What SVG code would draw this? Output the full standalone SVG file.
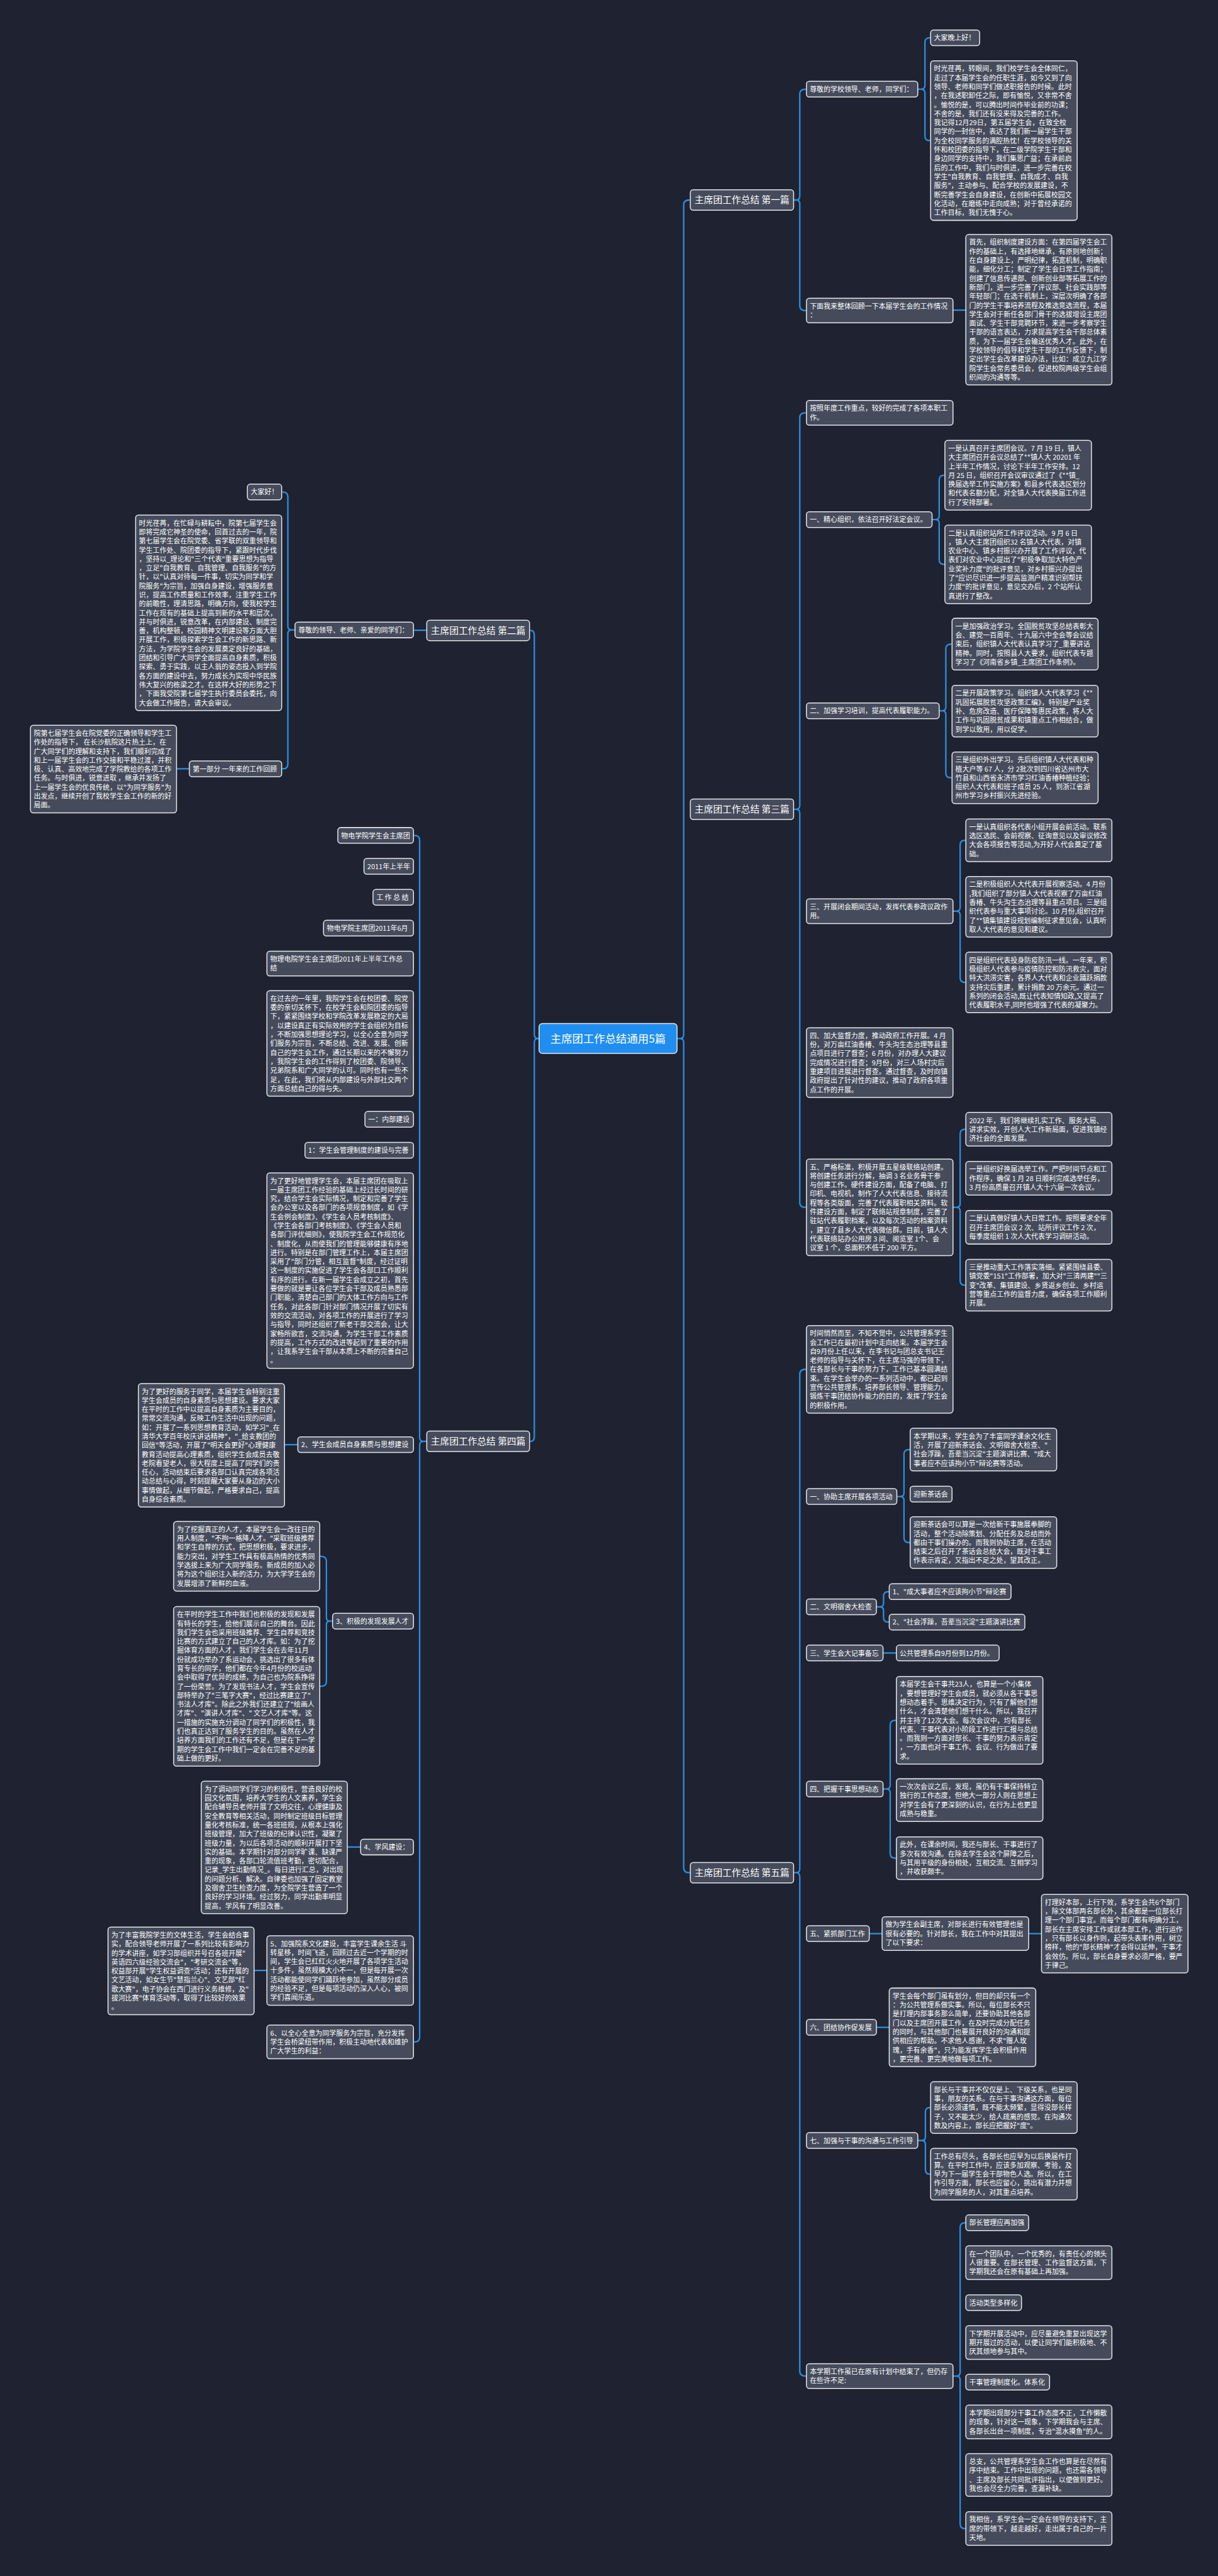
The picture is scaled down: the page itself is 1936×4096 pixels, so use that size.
<svg xmlns="http://www.w3.org/2000/svg" width="1936" height="4096" viewBox="0 0 1936 4096">
<style>
text{font-family:'Noto Sans CJK SC','Noto Sans',sans-serif;fill:#ffffff}
.t{font-size:14.5px}
.h{font-size:19.5px;text-anchor:middle}
.m{font-size:23px;text-anchor:middle}
.b{fill:#454b5b;stroke:#e3e6ea;stroke-width:2}
.k{fill:#1f8ef0;stroke:#e3e6ea;stroke-width:2}
.c{fill:none;stroke:#2d8fe0;stroke-width:3;stroke-linecap:round}
</style>
<rect x="0" y="0" width="1936" height="4096" fill="#1f2331"/>
<g transform="scale(0.75625)">
<g id="connectors">
<path class="c" d="M1449,420.5 Q1437,420.5 1437,430.5 L1437,2175.5 Q1437,2183.5 1429,2183.5 M1449,3937.5 Q1437,3937.5 1437,3927.5 L1437,2191.5 Q1437,2183.5 1429,2183.5 M1423,2183.5 L1429,2183.5"/>
<path class="c" d="M1693,187.5 Q1681,187.5 1681,197.5 L1681,412.5 Q1681,420.5 1673,420.5 M1693,653 Q1681,653 1681,643 L1681,428.5 Q1681,420.5 1673,420.5 M1668,420.5 L1673,420.5"/>
<path class="c" d="M1954,79.5 Q1944,79.5 1944,89.5 L1944,179.5 Q1944,187.5 1936,187.5 M1954,295.6 Q1944,295.6 1944,285.6 L1944,195.5 Q1944,187.5 1936,187.5 M1929,187.5 L1936,187.5"/>
<path class="c" d="M2003,652 L2030,652"/>
<path class="c" d="M1693,867.9 Q1681,867.9 1681,877.9 L1681,1693.5 Q1681,1701.5 1673,1701.5 M1693,2538.5 Q1681,2538.5 1681,2528.5 L1681,1709.5 Q1681,1701.5 1673,1701.5 M1668,1701.5 L1673,1701.5"/>
<path class="c" d="M1984,999.2 Q1974,999.2 1974,1009.2 L1974,1084.5 Q1974,1092.5 1966,1092.5 M1984,1186.6 Q1974,1186.6 1974,1176.6 L1974,1100.5 Q1974,1092.5 1966,1092.5 M1959,1092.5 L1966,1092.5"/>
<path class="c" d="M1999,1354.3 Q1988,1354.3 1988,1364.3 L1988,1486.5 Q1988,1494.5 1980,1494.5 M1999,1635.3 Q1988,1635.3 1988,1625.3 L1988,1502.5 Q1988,1494.5 1980,1494.5 M1974,1494.5 L1980,1494.5"/>
<path class="c" d="M2028,1766.8 Q2018,1766.8 2018,1776.8 L2018,1907.9 Q2018,1915.9 2010,1915.9 M2028,2065.7 Q2018,2065.7 2018,2055.7 L2018,1923.9 Q2018,1915.9 2010,1915.9 M2003,1915.9 L2010,1915.9"/>
<path class="c" d="M2028,2374.4 Q2018,2374.4 2018,2384.4 L2018,2530.5 Q2018,2538.5 2010,2538.5 M2028,2702.3 Q2018,2702.3 2018,2692.3 L2018,2546.5 Q2018,2538.5 2010,2538.5 M2003,2538.5 L2010,2538.5"/>
<path class="c" d="M1693,2879 Q1681,2879 1681,2889 L1681,3929.5 Q1681,3937.5 1673,3937.5 M1693,4995.9 Q1681,4995.9 1681,4985.9 L1681,3945.5 Q1681,3937.5 1673,3937.5 M1668,3937.5 L1673,3937.5"/>
<path class="c" d="M1911,3047.8 Q1900,3047.8 1900,3057.8 L1900,3138.5 Q1900,3146.5 1892,3146.5 M1911,3243.3 Q1900,3243.3 1900,3233.3 L1900,3154.5 Q1900,3146.5 1892,3146.5 M1885,3146.5 L1892,3146.5"/>
<path class="c" d="M1867,3346.5 Q1857,3346.5 1857,3356.5 L1857,3370.5 Q1857,3378.5 1849,3378.5 M1867,3410.5 Q1857,3410.5 1857,3400.5 L1857,3386.5 Q1857,3378.5 1849,3378.5 M1842,3378.5 L1849,3378.5"/>
<path class="c" d="M1856,3475.5 L1884,3475.5"/>
<path class="c" d="M1882,3617 Q1871,3617 1871,3627 L1871,3753.5 Q1871,3761.5 1863,3761.5 M1882,3906.8 Q1871,3906.8 1871,3896.8 L1871,3769.5 Q1871,3761.5 1863,3761.5 M1856,3761.5 L1863,3761.5"/>
<path class="c" d="M1827,4065.5 L1854,4065.5 M2162,4065.5 L2189,4065.5 M1842,4262.5 L1869,4262.5"/>
<path class="c" d="M1954,4431.3 Q1945,4431.3 1945,4441.3 L1945,4492.5 Q1945,4500.5 1937,4500.5 M1954,4571.3 Q1945,4571.3 1945,4561.3 L1945,4508.5 Q1945,4500.5 1937,4500.5 M1929,4500.5 L1937,4500.5"/>
<path class="c" d="M2028,4673.5 Q2018,4673.5 2018,4683.5 L2018,4987.9 Q2018,4995.9 2010,4995.9 M2028,5316.4 Q2018,5316.4 2018,5306.4 L2018,5003.9 Q2018,4995.9 2010,4995.9 M2003,4995.9 L2010,4995.9"/>
<path class="c" d="M1115,1325.5 Q1123,1325.5 1123,1335.5 L1123,2175.5 Q1123,2183.5 1131,2183.5 M1115,3030.5 Q1123,3030.5 1123,3020.5 L1123,2191.5 Q1123,2183.5 1131,2183.5 M1131,2183.5 L1133,2183.5"/>
<path class="c" d="M897,1325 L869,1325"/>
<path class="c" d="M594,1034.5 Q605,1034.5 605,1044.5 L605,1316.5 Q605,1324.5 613,1324.5 M594,1616.5 Q605,1616.5 605,1606.5 L605,1332.5 Q605,1324.5 613,1324.5 M613,1324.5 L620,1324.5"/>
<path class="c" d="M398,1616.5 L371,1616.5"/>
<path class="c" d="M871,1756.5 Q882,1756.5 882,1766.5 L882,3022.5 Q882,3030.5 890,3030.5 M871,4293.4 Q882,4293.4 882,4283.4 L882,3038.5 Q882,3030.5 890,3030.5 M890,3030.5 L897,3030.5"/>
<path class="c" d="M626,3037.5 L598,3037.5"/>
<path class="c" d="M674,3272.2 Q686,3272.2 686,3282.2 L686,3400.5 Q686,3408.5 694,3408.5 M674,3545.7 Q686,3545.7 686,3535.7 L686,3416.5 Q686,3408.5 694,3408.5 M694,3408.5 L699,3408.5"/>
<path class="c" d="M758,3883.5 L730,3883.5 M561,4143 L534,4143"/>
</g>

<g id="n-center"><rect class="k" x="1133" y="2152" width="290" height="63" rx="7"/><text class="m" x="1278" y="2192">主席团工作总结通用5篇</text></g>

<g id="n-p1"><rect class="b" x="1451" y="399" width="217" height="43" rx="6"/><text class="h" x="1559.5" y="427.5">主席团工作总结 第一篇</text></g>
<g id="n-p1a"><rect class="b" x="1695" y="171" width="234" height="33" rx="6"/><text class="t" x="1702" y="193">尊敬的学校领导、老师，同学们：</text></g>
<g id="n-p1a1"><rect class="b" x="1956" y="63" width="103" height="33" rx="6"/><text class="t" x="1963" y="85">大家晚上好！</text></g>
<g id="n-p1a2"><rect class="b" x="1956" y="128" width="308" height="335.3" rx="6"/><text class="t" x="1963" y="150"><tspan x="1963">时光荏苒，转眼间，我们校学生会全体同仁，</tspan><tspan x="1963" dy="18.9">走过了本届学生会的任职生涯，如今又到了向</tspan><tspan x="1963" dy="18.9">领导、老师和同学们做述职报告的时候。此时</tspan><tspan x="1963" dy="18.9">，在我述职卸任之际，即有愉悦，又非常不舍</tspan><tspan x="1963" dy="18.9">。愉悦的是，可以腾出时间作毕业前的功课；</tspan><tspan x="1963" dy="18.9">不舍的是，我们还有没来得及完善的工作。</tspan><tspan x="1963" dy="18.9">我记得12月29日，第五届学生会，在致全校</tspan><tspan x="1963" dy="18.9">同学的一封信中，表达了我们新一届学生干部</tspan><tspan x="1963" dy="18.9">为全校同学服务的满腔热忱！在学校领导的关</tspan><tspan x="1963" dy="18.9">怀和校团委的指导下，在二级学院学生干部和</tspan><tspan x="1963" dy="18.9">身边同学的支持中，我们集思广益；在承前启</tspan><tspan x="1963" dy="18.9">后的工作中，我们与时俱进，进一步完善在校</tspan><tspan x="1963" dy="18.9">学生"自我教育、自我管理、自我成才、自我</tspan><tspan x="1963" dy="18.9">服务"，主动参与、配合学校的发展建设，不</tspan><tspan x="1963" dy="18.9">断完善学生会自身建设，在创新中拓展校园文</tspan><tspan x="1963" dy="18.9">化活动，在磨练中走向成熟；对于曾经承诺的</tspan><tspan x="1963" dy="18.9">工作目标，我们无愧于心。</tspan></text></g>
<g id="n-p1b"><rect class="b" x="1695" y="627" width="308" height="51.8" rx="6"/><text class="t" x="1702" y="649"><tspan x="1702">下面我来整体回顾一下本届学生会的工作情况</tspan><tspan x="1702" dy="18.9">：</tspan></text></g>
<g id="n-p1b1"><rect class="b" x="2030" y="493" width="307" height="316.4" rx="6"/><text class="t" x="2037" y="515"><tspan x="2037">首先，组织制度建设方面：在第四届学生会工</tspan><tspan x="2037" dy="18.9">作的基础上，有选择地继承，有原则地创新；</tspan><tspan x="2037" dy="18.9">在自身建设上，严明纪律，拓宽机制，明确职</tspan><tspan x="2037" dy="18.9">能，细化分工；制定了学生会日常工作指南；</tspan><tspan x="2037" dy="18.9">创建了信息传递部、创新创业部等拓展工作的</tspan><tspan x="2037" dy="18.9">新部门，进一步完善了评议部、社会实践部等</tspan><tspan x="2037" dy="18.9">年轻部门；在选干机制上，深层次明确了各部</tspan><tspan x="2037" dy="18.9">门的学生干事培养流程及推选竞选流程，本届</tspan><tspan x="2037" dy="18.9">学生会对于新任各部门骨干的选拔增设主席团</tspan><tspan x="2037" dy="18.9">面试、学生干部竞聘环节，来进一步考察学生</tspan><tspan x="2037" dy="18.9">干部的语言表达，力求提高学生会干部总体素</tspan><tspan x="2037" dy="18.9">质，为下一届学生会输送优秀人才。此外，在</tspan><tspan x="2037" dy="18.9">学校领导的倡导和学生干部的工作反馈下，制</tspan><tspan x="2037" dy="18.9">定出学生会改革建设办法，比如：成立九江学</tspan><tspan x="2037" dy="18.9">院学生会常务委员会，促进校院两级学生会组</tspan><tspan x="2037" dy="18.9">织间的沟通等等。</tspan></text></g>

<g id="n-p3"><rect class="b" x="1451" y="1680" width="217" height="43" rx="6"/><text class="h" x="1559.5" y="1709">主席团工作总结 第三篇</text></g>
<g id="n-p3a"><rect class="b" x="1695" y="842" width="308" height="51.8" rx="6"/><text class="t" x="1702" y="864"><tspan x="1702">按照年度工作重点，较好的完成了各项本职工</tspan><tspan x="1702" dy="18.9">作。</tspan></text></g>
<g id="n-p3b"><rect class="b" x="1695" y="1076" width="264" height="33" rx="6"/><text class="t" x="1702" y="1098">一、精心组织，依法召开好法定会议。</text></g>
<g id="n-p3b1"><rect class="b" x="1986" y="926" width="308" height="146.3" rx="6"/><text class="t" x="1993" y="948"><tspan x="1993">一是认真召开主席团会议。7 月 19 日，镇人</tspan><tspan x="1993" dy="18.9">大主席团召开会议总结了**镇人大 20201 年</tspan><tspan x="1993" dy="18.9">上半年工作情况，讨论下半年工作安排。12</tspan><tspan x="1993" dy="18.9">月 25 日，组织召开会议审议通过了《**镇_</tspan><tspan x="1993" dy="18.9">换届选举工作实施方案》和县乡代表选区划分</tspan><tspan x="1993" dy="18.9">和代表名额分配，对全镇人大代表换届工作进</tspan><tspan x="1993" dy="18.9">行了安排部署。</tspan></text></g>
<g id="n-p3b2"><rect class="b" x="1986" y="1104" width="308" height="165.2" rx="6"/><text class="t" x="1993" y="1126"><tspan x="1993">二是认真组织站所工作评议活动。9 月 6 日</tspan><tspan x="1993" dy="18.9">，镇人大主席团组织32 名镇人大代表，对镇</tspan><tspan x="1993" dy="18.9">农业中心、镇乡村振兴办开展了工作评议，代</tspan><tspan x="1993" dy="18.9">表们对农业中心提出了"积极争取加大特色产</tspan><tspan x="1993" dy="18.9">业奖补力度"的批评意见，对乡村振兴办提出</tspan><tspan x="1993" dy="18.9">了"应识尽识进一步提高监测户精准识别帮扶</tspan><tspan x="1993" dy="18.9">力度"的批评意见，意见交办后，2 个站所认</tspan><tspan x="1993" dy="18.9">真进行了整改。</tspan></text></g>
<g id="n-p3c"><rect class="b" x="1695" y="1478" width="279" height="33" rx="6"/><text class="t" x="1702" y="1500">二、加强学习培训，提高代表履职能力。</text></g>
<g id="n-p3c1"><rect class="b" x="2001" y="1300" width="307" height="108.5" rx="6"/><text class="t" x="2008" y="1322"><tspan x="2008">一是加强政治学习。全国脱贫攻坚总结表彰大</tspan><tspan x="2008" dy="18.9">会、建党一百周年、十九届六中全会等会议结</tspan><tspan x="2008" dy="18.9">束后，组织镇人大代表认真学习了_重要讲话</tspan><tspan x="2008" dy="18.9">精神。同时，按照县人大要求，组织代表专题</tspan><tspan x="2008" dy="18.9">学习了《河南省乡镇_主席团工作条例》。</tspan></text></g>
<g id="n-p3c2"><rect class="b" x="2001" y="1441" width="307" height="108.5" rx="6"/><text class="t" x="2008" y="1463"><tspan x="2008">二是开展政策学习。组织镇人大代表学习《**</tspan><tspan x="2008" dy="18.9">巩固拓展脱贫攻坚政策汇编》，特别是产业奖</tspan><tspan x="2008" dy="18.9">补、危房改造、医疗保障等惠民政策，将人大</tspan><tspan x="2008" dy="18.9">工作与巩固脱贫成果和镇重点工作相结合，做</tspan><tspan x="2008" dy="18.9">到学以致用，用以促学。</tspan></text></g>
<g id="n-p3c3"><rect class="b" x="2001" y="1581" width="307" height="108.5" rx="6"/><text class="t" x="2008" y="1603"><tspan x="2008">三是组织外出学习。先后组织镇人大代表和种</tspan><tspan x="2008" dy="18.9">植大户等 67 人，分 2批次到四川省达州市大</tspan><tspan x="2008" dy="18.9">竹县和山西省永济市学习红油香椿种植经验；</tspan><tspan x="2008" dy="18.9">组织人大代表和班子成员 25 人，到浙江省湖</tspan><tspan x="2008" dy="18.9">州市学习乡村振兴先进经验。</tspan></text></g>
<g id="n-p3d"><rect class="b" x="1695" y="1890" width="308" height="51.8" rx="6"/><text class="t" x="1702" y="1912"><tspan x="1702">三、开展闭会期间活动，发挥代表参政议政作</tspan><tspan x="1702" dy="18.9">用。</tspan></text></g>
<g id="n-p3d1"><rect class="b" x="2030" y="1722" width="307" height="89.6" rx="6"/><text class="t" x="2037" y="1744"><tspan x="2037">一是认真组织各代表小组开展会前活动。联系</tspan><tspan x="2037" dy="18.9">选区选民、会前视察、征询意见以及审议修改</tspan><tspan x="2037" dy="18.9">大会各项报告等活动,为开好人代会奠定了基</tspan><tspan x="2037" dy="18.9">础。</tspan></text></g>
<g id="n-p3d2"><rect class="b" x="2030" y="1843" width="307" height="127.4" rx="6"/><text class="t" x="2037" y="1865"><tspan x="2037">二是积极组织人大代表开展视察活动。4 月份</tspan><tspan x="2037" dy="18.9">,我们组织了部分镇人大代表视察了万亩红油</tspan><tspan x="2037" dy="18.9">香椿、牛头沟生态治理等县重点项目。三是组</tspan><tspan x="2037" dy="18.9">织代表参与重大事项讨论。10 月份,组织召开</tspan><tspan x="2037" dy="18.9">了**镇集镇建设规划编制征求意见会，认真听</tspan><tspan x="2037" dy="18.9">取人大代表的意见和建议。</tspan></text></g>
<g id="n-p3d3"><rect class="b" x="2030" y="2002" width="307" height="127.4" rx="6"/><text class="t" x="2037" y="2024"><tspan x="2037">四是组织代表投身防疫防汛一线。一年来，积</tspan><tspan x="2037" dy="18.9">极组织人代表参与疫情防控和防汛救灾，面对</tspan><tspan x="2037" dy="18.9">特大洪涝灾害，各界人大代表和企业踊跃捐款</tspan><tspan x="2037" dy="18.9">支持灾后重建，累计捐款 20 万余元。通过一</tspan><tspan x="2037" dy="18.9">系列的闭会活动,既让代表知情知政,又提高了</tspan><tspan x="2037" dy="18.9">代表履职水平,同时也增强了代表的凝聚力。</tspan></text></g>
<g id="n-p3e"><rect class="b" x="1695" y="2161" width="308" height="146.3" rx="6"/><text class="t" x="1702" y="2183"><tspan x="1702">四、加大监督力度，推动政府工作开展。4 月</tspan><tspan x="1702" dy="18.9">份，对万亩红油香椿、牛头沟生态治理等县重</tspan><tspan x="1702" dy="18.9">点项目进行了督查；6 月份，对办理人大建议</tspan><tspan x="1702" dy="18.9">完成情况进行督查；9月份，对三人场村灾后</tspan><tspan x="1702" dy="18.9">重建项目进展进行督查。通过督查，及时向镇</tspan><tspan x="1702" dy="18.9">政府提出了针对性的建议，推动了政府各项重</tspan><tspan x="1702" dy="18.9">点工作的开展。</tspan></text></g>
<g id="n-p3f"><rect class="b" x="1695" y="2437" width="308" height="203" rx="6"/><text class="t" x="1702" y="2459"><tspan x="1702">五、严格标准，积极开展五星级联络站创建。</tspan><tspan x="1702" dy="18.9">将创建任务进行分解，抽调 3 名业务骨干参</tspan><tspan x="1702" dy="18.9">与创建工作。硬件建设方面，配备了电脑、打</tspan><tspan x="1702" dy="18.9">印机、电视机，制作了人大代表信息、接待流</tspan><tspan x="1702" dy="18.9">程等各类版面，完善了代表履职相关资料。软</tspan><tspan x="1702" dy="18.9">件建设方面，制定了联络站规章制度，完善了</tspan><tspan x="1702" dy="18.9">驻站代表履职档案，以及每次活动的档案资料</tspan><tspan x="1702" dy="18.9">，建立了县乡人大代表微信群。目前，镇人大</tspan><tspan x="1702" dy="18.9">代表联络站办公用房 3 间、阅览室 1个、会</tspan><tspan x="1702" dy="18.9">议室 1 个，总面积不低于 200 平方。</tspan></text></g>
<g id="n-p3f1"><rect class="b" x="2030" y="2339" width="307" height="70.7" rx="6"/><text class="t" x="2037" y="2361"><tspan x="2037">2022 年，我们将继续扎实工作、服务大局、</tspan><tspan x="2037" dy="18.9">讲求实效，开创人大工作新局面，促进我镇经</tspan><tspan x="2037" dy="18.9">济社会的全面发展。</tspan></text></g>
<g id="n-p3f2"><rect class="b" x="2030" y="2442" width="307" height="70.7" rx="6"/><text class="t" x="2037" y="2464"><tspan x="2037">一是组织好换届选举工作。严把时间节点和工</tspan><tspan x="2037" dy="18.9">作程序，确保 1 月 28 日顺利完成选举任务，</tspan><tspan x="2037" dy="18.9">3 月份高质量召开镇人大十六届一次会议。</tspan></text></g>
<g id="n-p3f3"><rect class="b" x="2030" y="2545" width="307" height="70.7" rx="6"/><text class="t" x="2037" y="2567"><tspan x="2037">二是认真做好镇人大日常工作。按照要求全年</tspan><tspan x="2037" dy="18.9">召开主席团会议 2 次、站所评议工作 2 次，</tspan><tspan x="2037" dy="18.9">每季度组织 1 次人大代表学习调研活动。</tspan></text></g>
<g id="n-p3f4"><rect class="b" x="2030" y="2648" width="307" height="108.5" rx="6"/><text class="t" x="2037" y="2670"><tspan x="2037">三是推动重大工作落实落细。紧紧围绕县委、</tspan><tspan x="2037" dy="18.9">镇党委"151"工作部署，加大对"三清两建""三</tspan><tspan x="2037" dy="18.9">变"改革、集镇建设、乡贤返乡创业、乡村运</tspan><tspan x="2037" dy="18.9">营等重点工作的监督力度，确保各项工作顺利</tspan><tspan x="2037" dy="18.9">开展。</tspan></text></g>

<g id="n-p5"><rect class="b" x="1451" y="3916" width="217" height="43" rx="6"/><text class="h" x="1559.5" y="3945">主席团工作总结 第五篇</text></g>
<g id="n-p5a"><rect class="b" x="1695" y="2787" width="308" height="184.1" rx="6"/><text class="t" x="1702" y="2809"><tspan x="1702">时间悄然而至，不知不觉中，公共管理系学生</tspan><tspan x="1702" dy="18.9">会工作已在最初计划中走向结束。本届学生会</tspan><tspan x="1702" dy="18.9">自9月份上任以来，在李书记与团总支书记王</tspan><tspan x="1702" dy="18.9">老师的指导与关怀下，在主席马强的带领下，</tspan><tspan x="1702" dy="18.9">在各部长与干事的努力下，工作已基本圆满结</tspan><tspan x="1702" dy="18.9">束。在学生会举办的一系列活动中，都已起到</tspan><tspan x="1702" dy="18.9">宣传公共管理系，培养部长领导、管理能力，</tspan><tspan x="1702" dy="18.9">锻炼干事团结协作能力的目的，发挥了学生会</tspan><tspan x="1702" dy="18.9">的积极作用。</tspan></text></g>
<g id="n-p5b"><rect class="b" x="1695" y="3130" width="190" height="33" rx="6"/><text class="t" x="1702" y="3152">一、协助主席开展各项活动</text></g>
<g id="n-p5b1"><rect class="b" x="1913" y="3003" width="308" height="89.6" rx="6"/><text class="t" x="1920" y="3025"><tspan x="1920">本学期以来，学生会为了丰富同学课余文化生</tspan><tspan x="1920" dy="18.9">活，开展了迎新茶话会、文明宿舍大检查、"</tspan><tspan x="1920" dy="18.9">社会浮躁，吾辈当沉淀"主题演讲比赛、"成大</tspan><tspan x="1920" dy="18.9">事者应不应该拘小节"辩论赛等活动。</tspan></text></g>
<g id="n-p5b2"><rect class="b" x="1913" y="3125" width="88" height="33" rx="6"/><text class="t" x="1920" y="3147">迎新茶话会</text></g>
<g id="n-p5b3"><rect class="b" x="1913" y="3189" width="308" height="108.5" rx="6"/><text class="t" x="1920" y="3211"><tspan x="1920">迎新茶话会可以算是一次给新干事施展拳脚的</tspan><tspan x="1920" dy="18.9">活动，整个活动除策划、分配任务及总结而外</tspan><tspan x="1920" dy="18.9">都由干事们操办的。而我则协助主席，在活动</tspan><tspan x="1920" dy="18.9">结束之后召开了茶话会总结大会，既对干事工</tspan><tspan x="1920" dy="18.9">作表示肯定，又指出不足之处，望其改正。</tspan></text></g>
<g id="n-p5c"><rect class="b" x="1695" y="3362" width="147" height="33" rx="6"/><text class="t" x="1702" y="3384">二、文明宿舍大检查</text></g>
<g id="n-p5c1"><rect class="b" x="1869" y="3330" width="256" height="33" rx="6"/><text class="t" x="1876" y="3352">1、"成大事者应不应该拘小节"辩论赛</text></g>
<g id="n-p5c2"><rect class="b" x="1869" y="3394" width="285" height="33" rx="6"/><text class="t" x="1876" y="3416">2、"社会浮躁，吾辈当沉淀"主题演讲比赛</text></g>
<g id="n-p5d"><rect class="b" x="1695" y="3459" width="161" height="33" rx="6"/><text class="t" x="1702" y="3481">三、学生会大记事备忘</text></g>
<g id="n-p5d1"><rect class="b" x="1884" y="3459" width="216" height="33" rx="6"/><text class="t" x="1891" y="3481">公共管理系自9月份到12月份。</text></g>
<g id="n-p5e"><rect class="b" x="1695" y="3745" width="161" height="33" rx="6"/><text class="t" x="1702" y="3767">四、把握干事思想动态</text></g>
<g id="n-p5e1"><rect class="b" x="1884" y="3525" width="308" height="184.1" rx="6"/><text class="t" x="1891" y="3547"><tspan x="1891">本届学生会干事共23人，也算是一个小集体</tspan><tspan x="1891" dy="18.9">，要想管理好学生会成员，就必须从各干事思</tspan><tspan x="1891" dy="18.9">想动态着手。思维决定行为，只有了解他们想</tspan><tspan x="1891" dy="18.9">什么，才会清楚他们想干什么。所以，我召开</tspan><tspan x="1891" dy="18.9">并主持了12次大会。每次会议中，均有部长</tspan><tspan x="1891" dy="18.9">代表、干事代表对小阶段工作进行汇报与总结</tspan><tspan x="1891" dy="18.9">。而我则一方面对部长、干事的努力表示肯定</tspan><tspan x="1891" dy="18.9">，一方面也对干事工作、会议、行为做出了要</tspan><tspan x="1891" dy="18.9">求。</tspan></text></g>
<g id="n-p5e2"><rect class="b" x="1884" y="3740" width="308" height="89.6" rx="6"/><text class="t" x="1891" y="3762"><tspan x="1891">一次次会议之后，发现，虽仍有干事保持特立</tspan><tspan x="1891" dy="18.9">独行的工作态度，但绝大一部分人则在思想上</tspan><tspan x="1891" dy="18.9">对学生会有了更深刻的认识，在行为上也更显</tspan><tspan x="1891" dy="18.9">成熟与稳重。</tspan></text></g>
<g id="n-p5e3"><rect class="b" x="1884" y="3862" width="308" height="89.6" rx="6"/><text class="t" x="1891" y="3884"><tspan x="1891">此外，在课余时间，我还与部长、干事进行了</tspan><tspan x="1891" dy="18.9">多次有效沟通。在除去学生会这个屏障之后，</tspan><tspan x="1891" dy="18.9">与其用平级的身份相处，互相交流、互相学习</tspan><tspan x="1891" dy="18.9">，并收获颇丰。</tspan></text></g>
<g id="n-p5f"><rect class="b" x="1695" y="4049" width="132" height="33" rx="6"/><text class="t" x="1702" y="4071">五、紧抓部门工作</text></g>
<g id="n-p5f1"><rect class="b" x="1854" y="4030" width="308" height="70.7" rx="6"/><text class="t" x="1861" y="4052"><tspan x="1861">做为学生会副主席，对部长进行有效管理也是</tspan><tspan x="1861" dy="18.9">很有必要的。针对部长，我在工作中对其提出</tspan><tspan x="1861" dy="18.9">了以下要求：</tspan></text></g>
<g id="n-p5f2"><rect class="b" x="2189" y="3983" width="308" height="165.2" rx="6"/><text class="t" x="2196" y="4005"><tspan x="2196">打理好本部，上行下效，系学生会共6个部门</tspan><tspan x="2196" dy="18.9">，除文体部两名部长外，其余都是一位部长打</tspan><tspan x="2196" dy="18.9">理一个部门事宜。而每个部门都有明确分工，</tspan><tspan x="2196" dy="18.9">部长在主席安排工作或就本部工作，进行运作</tspan><tspan x="2196" dy="18.9">，只有部长以身作则，起带头表率作用，树立</tspan><tspan x="2196" dy="18.9">榜样，他的"部长精神"才会得以延伸，干事才</tspan><tspan x="2196" dy="18.9">会效仿。所以，部长自身要求必须严格，要严</tspan><tspan x="2196" dy="18.9">于律己。</tspan></text></g>
<g id="n-p5g"><rect class="b" x="1695" y="4246" width="147" height="33" rx="6"/><text class="t" x="1702" y="4268">六、团结协作促发展</text></g>
<g id="n-p5g1"><rect class="b" x="1869" y="4180" width="308" height="165.2" rx="6"/><text class="t" x="1876" y="4202"><tspan x="1876">学生会每个部门虽有划分，但目的却只有一个</tspan><tspan x="1876" dy="18.9">：为公共管理系做实事。所以，每位部长不只</tspan><tspan x="1876" dy="18.9">是打理内部事务那么简单，还要协助其他各部</tspan><tspan x="1876" dy="18.9">门以及主席团开展工作，在及时完成分配任务</tspan><tspan x="1876" dy="18.9">的同时，与其他部门也要展开良好的沟通和提</tspan><tspan x="1876" dy="18.9">供相应的帮助。不求他人感谢，不求"赠人玫</tspan><tspan x="1876" dy="18.9">瑰，手有余香"，只为能发挥学生会积极作用</tspan><tspan x="1876" dy="18.9">，更完善、更完美地做每项工作。</tspan></text></g>
<g id="n-p5h"><rect class="b" x="1695" y="4484" width="234" height="33" rx="6"/><text class="t" x="1702" y="4506">七、加强与干事的沟通与工作引导</text></g>
<g id="n-p5h1"><rect class="b" x="1956" y="4377" width="308" height="108.5" rx="6"/><text class="t" x="1963" y="4399"><tspan x="1963">部长与干事并不仅仅是上、下级关系，也是同</tspan><tspan x="1963" dy="18.9">事，朋友的关系。在与干事沟通这方面，每位</tspan><tspan x="1963" dy="18.9">部长必须谨慎，既不能太频繁，显得没部长样</tspan><tspan x="1963" dy="18.9">子，又不能太少，给人疏离的感觉。在沟通次</tspan><tspan x="1963" dy="18.9">数及内容上，部长应把握好"度"。</tspan></text></g>
<g id="n-p5h2"><rect class="b" x="1956" y="4517" width="308" height="108.5" rx="6"/><text class="t" x="1963" y="4539"><tspan x="1963">工作总有尽头，各部长也应早为以后换届作打</tspan><tspan x="1963" dy="18.9">算。在平时工作中，应该多加观察、考验，及</tspan><tspan x="1963" dy="18.9">早为下一届学生会干部物色人选。所以，在工</tspan><tspan x="1963" dy="18.9">作引导方面，部长也应留心，挑出有潜力并想</tspan><tspan x="1963" dy="18.9">为同学服务的人，对其重点培养。</tspan></text></g>
<g id="n-p5i"><rect class="b" x="1695" y="4970" width="308" height="51.8" rx="6"/><text class="t" x="1702" y="4992"><tspan x="1702">本学期工作虽已在原有计划中结束了，但仍存</tspan><tspan x="1702" dy="18.9">在些许不足:</tspan></text></g>
<g id="n-p5i1"><rect class="b" x="2030" y="4657" width="132" height="33" rx="6"/><text class="t" x="2037" y="4679">部长管理应再加强</text></g>
<g id="n-p5i2"><rect class="b" x="2030" y="4722" width="307" height="70.7" rx="6"/><text class="t" x="2037" y="4744"><tspan x="2037">在一个团队中，一个优秀的，有责任心的领头</tspan><tspan x="2037" dy="18.9">人很重要。在部长管理、工作监督这方面，下</tspan><tspan x="2037" dy="18.9">学期我还会在原有基础上再加强。</tspan></text></g>
<g id="n-p5i3"><rect class="b" x="2030" y="4825" width="117" height="33" rx="6"/><text class="t" x="2037" y="4847">活动类型多样化</text></g>
<g id="n-p5i4"><rect class="b" x="2030" y="4890" width="307" height="70.7" rx="6"/><text class="t" x="2037" y="4912"><tspan x="2037">下学期开展活动中，应尽量避免重复出现这学</tspan><tspan x="2037" dy="18.9">期开展过的活动，以便让同学们能积极地、不</tspan><tspan x="2037" dy="18.9">厌其烦地参与其中。</tspan></text></g>
<g id="n-p5i5"><rect class="b" x="2030" y="4992" width="176" height="33" rx="6"/><text class="t" x="2037" y="5014">干事管理制度化。体系化</text></g>
<g id="n-p5i6"><rect class="b" x="2030" y="5057" width="307" height="70.7" rx="6"/><text class="t" x="2037" y="5079"><tspan x="2037">本学期出现部分干事工作态度不正，工作懒散</tspan><tspan x="2037" dy="18.9">的现象，针对这一现象，下学期我会与主席、</tspan><tspan x="2037" dy="18.9">各部长出台一项制度，专治"混水摸鱼"的人。</tspan></text></g>
<g id="n-p5i7"><rect class="b" x="2030" y="5159" width="307" height="89.6" rx="6"/><text class="t" x="2037" y="5181"><tspan x="2037">总支，公共管理系学生会工作也算是在尽然有</tspan><tspan x="2037" dy="18.9">序中结束。工作中出现的问题，也还需各领导</tspan><tspan x="2037" dy="18.9">、主席及部长共同批评指出，以便做到更好。</tspan><tspan x="2037" dy="18.9">我也会尽全力完善，查漏补缺。</tspan></text></g>
<g id="n-p5i8"><rect class="b" x="2030" y="5281" width="307" height="70.7" rx="6"/><text class="t" x="2037" y="5303"><tspan x="2037">我相信，系学生会一定会在领导的支持下，主</tspan><tspan x="2037" dy="18.9">席的带领下，越走越好，走出属于自己的一片</tspan><tspan x="2037" dy="18.9">天地。</tspan></text></g>

<g id="n-p2"><rect class="b" x="897" y="1304" width="216" height="43" rx="6"/><text class="h" x="1005" y="1333">主席团工作总结 第二篇</text></g>
<g id="n-p2a"><rect class="b" x="620" y="1308" width="249" height="33" rx="6"/><text class="t" x="627" y="1330">尊敬的领导、老师、亲爱的同学们：</text></g>
<g id="n-p2a1"><rect class="b" x="520" y="1018" width="72" height="33" rx="6"/><text class="t" x="527" y="1040">大家好！</text></g>
<g id="n-p2a2"><rect class="b" x="285" y="1083" width="307" height="410.9" rx="6"/><text class="t" x="292" y="1105"><tspan x="292">时光荏苒，在忙碌与耕耘中，院第七届学生会</tspan><tspan x="292" dy="18.9">即将完成它神圣的使命，回首过去的一年，院</tspan><tspan x="292" dy="18.9">第七届学生会在院党委、省学联的双重领导和</tspan><tspan x="292" dy="18.9">学生工作处、院团委的指导下，紧跟时代步伐</tspan><tspan x="292" dy="18.9">，坚持以_理论和"三个代表"重要思想为指导</tspan><tspan x="292" dy="18.9">，立足"自我教育、自我管理、自我服务"的方</tspan><tspan x="292" dy="18.9">针，以"认真对待每一件事，切实为同学和学</tspan><tspan x="292" dy="18.9">院服务"为宗旨，加强自身建设，增强服务意</tspan><tspan x="292" dy="18.9">识，提高工作质量和工作效率，注重学生工作</tspan><tspan x="292" dy="18.9">的前瞻性，理清思路，明确方向，使我校学生</tspan><tspan x="292" dy="18.9">工作在现有的基础上提高到新的水平和层次，</tspan><tspan x="292" dy="18.9">并与时俱进，锐意改革，在内部建设、制度完</tspan><tspan x="292" dy="18.9">善，机构整顿，校园精神文明建设等方面大胆</tspan><tspan x="292" dy="18.9">开展工作，积极探索学生会工作的新思路、新</tspan><tspan x="292" dy="18.9">方法，为学院学生会的发展奠定良好的基础，</tspan><tspan x="292" dy="18.9">团结和引导广大同学全面提高自身素质，积极</tspan><tspan x="292" dy="18.9">探索、勇于实践，以主人翁的姿态投入到学院</tspan><tspan x="292" dy="18.9">各方面的建设中去，努力成长为实现中华民族</tspan><tspan x="292" dy="18.9">伟大复兴的栋梁之才。在这样大好的形势之下</tspan><tspan x="292" dy="18.9">，下面我受院第七届学生执行委员会委托，向</tspan><tspan x="292" dy="18.9">大会做工作报告，请大会审议。</tspan></text></g>
<g id="n-p2a3"><rect class="b" x="398" y="1600" width="194" height="33" rx="6"/><text class="t" x="405" y="1622">第一部分 一年来的工作回顾</text></g>
<g id="n-p2a3a"><rect class="b" x="64" y="1525" width="307" height="184.1" rx="6"/><text class="t" x="71" y="1547"><tspan x="71">院第七届学生会在院党委的正确领导和学生工</tspan><tspan x="71" dy="18.9">作处的指导下， 在长沙航院这片热土上，在</tspan><tspan x="71" dy="18.9">广大同学们的理解和支持下，我们顺利完成了</tspan><tspan x="71" dy="18.9">和上一届学生会的工作交接和平稳过渡，并积</tspan><tspan x="71" dy="18.9">极、认真、高效地完成了学院教给的各项工作</tspan><tspan x="71" dy="18.9">任务。与时俱进，锐意进取 ，继承并发扬了</tspan><tspan x="71" dy="18.9">上一届学生会的优良传统，以"为同学服务"为</tspan><tspan x="71" dy="18.9">出发点，继续开创了我校学生会工作的新的好</tspan><tspan x="71" dy="18.9">局面。</tspan></text></g>

<g id="n-p4"><rect class="b" x="897" y="3009" width="216" height="43" rx="6"/><text class="h" x="1005" y="3038">主席团工作总结 第四篇</text></g>
<g id="n-p4a"><rect class="b" x="710" y="1740" width="159" height="33" rx="6"/><text class="t" x="717" y="1762">物电学院学生会主席团</text></g>
<g id="n-p4b"><rect class="b" x="765" y="1805" width="104" height="33" rx="6"/><text class="t" x="772" y="1827">2011年上半年</text></g>
<g id="n-p4c"><rect class="b" x="784" y="1870" width="85" height="33" rx="6"/><text class="t" x="791" y="1892">工 作 总 结</text></g>
<g id="n-p4d"><rect class="b" x="680" y="1935" width="189" height="33" rx="6"/><text class="t" x="687" y="1957">物电学院主席团2011年6月</text></g>
<g id="n-p4e"><rect class="b" x="561" y="2000" width="308" height="51.8" rx="6"/><text class="t" x="568" y="2022"><tspan x="568">物理电院学生会主席团2011年上半年工作总</tspan><tspan x="568" dy="18.9">结</tspan></text></g>
<g id="n-p4f"><rect class="b" x="561" y="2083" width="308" height="221.9" rx="6"/><text class="t" x="568" y="2105"><tspan x="568">在过去的一年里，我院学生会在校团委、院党</tspan><tspan x="568" dy="18.9">委的亲切关怀下，在校学生会和院团委的指导</tspan><tspan x="568" dy="18.9">下，紧紧围绕学校和学院改革发展稳定的大局</tspan><tspan x="568" dy="18.9">，以建设真正有实际效用的学生会组织为目标</tspan><tspan x="568" dy="18.9">，不断加强思想理论学习，以全心全意为同学</tspan><tspan x="568" dy="18.9">们服务为宗旨，不断总结、改进、发展、创新</tspan><tspan x="568" dy="18.9">自己的学生会工作，通过长期以来的不懈努力</tspan><tspan x="568" dy="18.9">，我院学生会的工作得到了校团委、院领导、</tspan><tspan x="568" dy="18.9">兄弟院系和广大同学的认可。同时也有一些不</tspan><tspan x="568" dy="18.9">足，在此，我们将从内部建设与外部社交两个</tspan><tspan x="568" dy="18.9">方面总结自己的得与失。</tspan></text></g>
<g id="n-p4g"><rect class="b" x="767" y="2337" width="102" height="33" rx="6"/><text class="t" x="774" y="2359">一：内部建设</text></g>
<g id="n-p4h"><rect class="b" x="641" y="2402" width="228" height="33" rx="6"/><text class="t" x="648" y="2424">1：学生会管理制度的建设与完善</text></g>
<g id="n-p4i"><rect class="b" x="561" y="2466" width="308" height="410.9" rx="6"/><text class="t" x="568" y="2488"><tspan x="568">为了更好地管理学生会，本届主席团在吸取上</tspan><tspan x="568" dy="18.9">一届主席团工作经验的基础上经过长时间的研</tspan><tspan x="568" dy="18.9">究，结合学生会实际情况，制定和完善了学生</tspan><tspan x="568" dy="18.9">会办公室以及各部门的各项规章制度，如《学</tspan><tspan x="568" dy="18.9">生会例会制度》、《学生会人员考核制度》、</tspan><tspan x="568" dy="18.9">《学生会各部门考核制度》、《学生会人员和</tspan><tspan x="568" dy="18.9">各部门评优细则》，使我院学生会工作规范化</tspan><tspan x="568" dy="18.9">、制度化，从而使我们的管理能够健康有序地</tspan><tspan x="568" dy="18.9">进行。特别是在部门管理工作上，本届主席团</tspan><tspan x="568" dy="18.9">采用了"部门分管，相互监督"制度，经过证明</tspan><tspan x="568" dy="18.9">这一制度的实施促进了学生会各部口工作顺利</tspan><tspan x="568" dy="18.9">有序的进行。在新一届学生会成立之初，首先</tspan><tspan x="568" dy="18.9">要做的就是要让各位学生会干部及成员熟悉部</tspan><tspan x="568" dy="18.9">门职能，清楚自己部门的大体工作方向与工作</tspan><tspan x="568" dy="18.9">任务，对此各部门针对部门情况开展了切实有</tspan><tspan x="568" dy="18.9">效的交流活动，对各项工作的开展进行了学习</tspan><tspan x="568" dy="18.9">与指导，同时还组织了新老干部交流会，让大</tspan><tspan x="568" dy="18.9">家畅所欲言，交流沟通，为学生干部工作素质</tspan><tspan x="568" dy="18.9">的提高，工作方式的改进等起到了重要的作用</tspan><tspan x="568" dy="18.9">，让我系学生会干部从本质上不断的完善自己</tspan><tspan x="568" dy="18.9">。</tspan></text></g>
<g id="n-p4j"><rect class="b" x="626" y="3021" width="243" height="33" rx="6"/><text class="t" x="633" y="3043">2、学生会成员自身素质与思想建设</text></g>
<g id="n-p4j1"><rect class="b" x="291" y="2909" width="307" height="259.7" rx="6"/><text class="t" x="298" y="2931"><tspan x="298">为了更好的服务于同学，本届学生会特别注重</tspan><tspan x="298" dy="18.9">学生会成员的自身素质与思想建设。要求大家</tspan><tspan x="298" dy="18.9">在平时的工作中以提高自身素质为主要目的，</tspan><tspan x="298" dy="18.9">常常交流沟通，反映工作生活中出现的问题，</tspan><tspan x="298" dy="18.9">如：开展了一系列思想教育活动，如学习"_在</tspan><tspan x="298" dy="18.9">清华大学百年校庆讲话精神"，"_给支教团的</tspan><tspan x="298" dy="18.9">回信"等活动，开展了"明天会更好"心理健康</tspan><tspan x="298" dy="18.9">教育活动提高心理素质，组织学生会成员去敬</tspan><tspan x="298" dy="18.9">老院看望老人，很大程度上提高了同学们的责</tspan><tspan x="298" dy="18.9">任心，活动结束后要求各部口认真完成各项活</tspan><tspan x="298" dy="18.9">动总结与心得，时刻提醒大家要从身边的大小</tspan><tspan x="298" dy="18.9">事情做起，从细节做起，严格要求自己，提高</tspan><tspan x="298" dy="18.9">自身综合素质。</tspan></text></g>
<g id="n-p4k"><rect class="b" x="699" y="3392" width="170" height="33" rx="6"/><text class="t" x="706" y="3414">3、积极的发现发展人才</text></g>
<g id="n-p4k1"><rect class="b" x="365" y="3199" width="307" height="146.3" rx="6"/><text class="t" x="372" y="3221"><tspan x="372">为了挖掘真正的人才，本届学生会一改往日的</tspan><tspan x="372" dy="18.9">用人制度，"不拘一格降人才。"采取班级推荐</tspan><tspan x="372" dy="18.9">和学生自荐的方式，把思想积极，要求进步，</tspan><tspan x="372" dy="18.9">能力突出，对学生工作具有极高热情的优秀同</tspan><tspan x="372" dy="18.9">学选拔上来为广大同学服务。新成员的加入必</tspan><tspan x="372" dy="18.9">将为这个组织注入新的活力，为大学学生会的</tspan><tspan x="372" dy="18.9">发展增添了新鲜的血液。</tspan></text></g>
<g id="n-p4k2"><rect class="b" x="365" y="3378" width="307" height="335.3" rx="6"/><text class="t" x="372" y="3400"><tspan x="372">在平时的学生工作中我们也积极的发现和发展</tspan><tspan x="372" dy="18.9">有特长的学生，给他们展示自己的舞台。因此</tspan><tspan x="372" dy="18.9">我们学生会也采用班级推荐、学生自荐和竞技</tspan><tspan x="372" dy="18.9">比赛的方式建立了自己的人才库。如：为了挖</tspan><tspan x="372" dy="18.9">掘体育方面的人才，我们学生会在去年11月</tspan><tspan x="372" dy="18.9">份就成功举办了系运动会，挑选出了很多有体</tspan><tspan x="372" dy="18.9">育专长的同学，他们都在今年4月份的校运动</tspan><tspan x="372" dy="18.9">会中取得了优异的成绩，为自己也为院系挣得</tspan><tspan x="372" dy="18.9">了一份荣誉。为了发现书法人才，学生会宣传</tspan><tspan x="372" dy="18.9">部特举办了"三笔字大赛"，经过比赛建立了"</tspan><tspan x="372" dy="18.9">书法人才库"。除此之外我们还建立了"绘画人</tspan><tspan x="372" dy="18.9">才库"、"演讲人才库"、" 文艺人才库"等。这</tspan><tspan x="372" dy="18.9">一措施的实施充分调动了同学们的积极性，我</tspan><tspan x="372" dy="18.9">们也真正达到了服务学生的目的。虽然在人才</tspan><tspan x="372" dy="18.9">培养方面我们的工作还有不足，但是在下一学</tspan><tspan x="372" dy="18.9">期的学生会工作中我们一定会在完善不足的基</tspan><tspan x="372" dy="18.9">础上做的更好。</tspan></text></g>
<g id="n-p4l"><rect class="b" x="758" y="3867" width="111" height="33" rx="6"/><text class="t" x="765" y="3889">4、学风建设：</text></g>
<g id="n-p4l1"><rect class="b" x="423" y="3745" width="307" height="278.6" rx="6"/><text class="t" x="430" y="3767"><tspan x="430">为了调动同学们学习的积极性，营造良好的校</tspan><tspan x="430" dy="18.9">园文化氛围，培养大学生的人文素养，学生会</tspan><tspan x="430" dy="18.9">配合辅导员老师开展了文明交往，心理健康及</tspan><tspan x="430" dy="18.9">安全教育等相关活动，同时制定班级目标管理</tspan><tspan x="430" dy="18.9">量化考核标准，统一各班班规，从根本上强化</tspan><tspan x="430" dy="18.9">班级管理，加大了班级的纪律认识性，凝聚了</tspan><tspan x="430" dy="18.9">班级力量，为以后各项活动的顺利开展打下坚</tspan><tspan x="430" dy="18.9">实的基础。本学期针对部分同学旷课、缺课严</tspan><tspan x="430" dy="18.9">重的现象，各部口轮流值班考勤，密切配合，</tspan><tspan x="430" dy="18.9">记录_学生出勤情况_。每日进行汇总，对出现</tspan><tspan x="430" dy="18.9">的问题分析、解决。自律委也加强了固定教室</tspan><tspan x="430" dy="18.9">及宿舍卫生检查力度，为全院学生营造了一个</tspan><tspan x="430" dy="18.9">良好的学习环境。经过努力，同学出勤率明显</tspan><tspan x="430" dy="18.9">提高，学风有了明显改善。</tspan></text></g>
<g id="n-p4m"><rect class="b" x="561" y="4070" width="308" height="146.3" rx="6"/><text class="t" x="568" y="4092"><tspan x="568">5、加强院系文化建设，丰富学生课余生活 斗</tspan><tspan x="568" dy="18.9">转星移，时间飞逝，回顾过去近一个学期的时</tspan><tspan x="568" dy="18.9">间，学生会已红红火火地开展了各项学生活动</tspan><tspan x="568" dy="18.9">十多件，虽然规模大小不一，但是每开展一次</tspan><tspan x="568" dy="18.9">活动都能使同学们踊跃地参加，虽然部分成员</tspan><tspan x="568" dy="18.9">的经验不足，但是每项活动仍深入人心，被同</tspan><tspan x="568" dy="18.9">学们喜闻乐道。</tspan></text></g>
<g id="n-p4m1"><rect class="b" x="227" y="4052" width="307" height="184.1" rx="6"/><text class="t" x="234" y="4074"><tspan x="234">为了丰富我院学生的文体生活，学生会结合事</tspan><tspan x="234" dy="18.9">实，配合领导老师开展了一系列比较有影响力</tspan><tspan x="234" dy="18.9">的学术讲座，如学习部组织并号召各班开展"</tspan><tspan x="234" dy="18.9">英语四六级经验交流会"，"考研交流会"等，</tspan><tspan x="234" dy="18.9">权益部开展"学生权益调查"活动；还有开展的</tspan><tspan x="234" dy="18.9">文艺活动，如女生节"慧指兰心"、文艺部"红</tspan><tspan x="234" dy="18.9">歌大赛"，电子协会在西门进行义务维修，及"</tspan><tspan x="234" dy="18.9">拔河比赛"体育活动等，取得了比较好的效果</tspan><tspan x="234" dy="18.9">。</tspan></text></g>
<g id="n-p4n"><rect class="b" x="561" y="4258" width="308" height="70.7" rx="6"/><text class="t" x="568" y="4280"><tspan x="568">6、以全心全意为同学服务为宗旨，充分发挥</tspan><tspan x="568" dy="18.9">学生会桥梁纽带作用，积极主动地代表和维护</tspan><tspan x="568" dy="18.9">广大学生的利益：</tspan></text></g>
</g>
</svg>
